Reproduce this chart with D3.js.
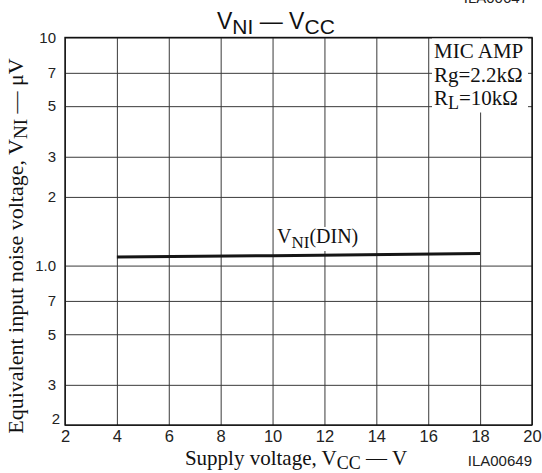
<!DOCTYPE html>
<html>
<head>
<meta charset="utf-8">
<script src="https://cdn.jsdelivr.net/npm/d3@7"></script>
<style>
  html, body { margin: 0; padding: 0; background: #fff; }
  svg { display: block; }
</style>
</head>
<body>
<script>
// Supply voltage (V) and equivalent input noise voltage (µV), DIN weighting
const vccValues = [4, 10, 18];
const vniValues = [1.09, 1.105, 1.13];

const xTickValues = [2, 4, 6, 8, 10, 12, 14, 16, 18, 20];
const xTickLabels = ["2", "4", "6", "8", "10", "12", "14", "16", "18", "20"];
const yTickValues = [10, 7, 5, 3, 2, 1, 0.7, 0.5, 0.3, 0.2];
const yTickLabels = ["10", "7", "5", "3", "2", "1.0", "7", "5", "3", "2"];

const W = 542, H = 473;
const plotL = 65, plotR = 532, plotT = 37.5, plotB = 425;
const sans = "'Liberation Sans', Arial, sans-serif";
const serif = "'Liberation Serif', 'Times New Roman', serif";

const svg = d3.select("body").append("svg")
  .attr("width", W).attr("height", H)
  .attr("viewBox", `0 0 ${W} ${H}`);

const x = d3.scaleLinear().domain([2, 20]).range([plotL, plotR]);
const y = d3.scaleLog().domain([0.2, 10]).range([plotB, plotT]);

// Vertical grid + x tick labels
const xAxis = svg.append("g")
  .attr("transform", `translate(0,${plotB})`)
  .call(d3.axisBottom(x)
    .tickValues(xTickValues)
    .tickFormat((d, i) => xTickLabels[i])
    .tickSize(-(plotB - plotT))
    .tickPadding(5));
xAxis.select(".domain").remove();
xAxis.selectAll("line").attr("stroke", "#3a3a3a").attr("stroke-width", 1);
xAxis.selectAll("text")
  .attr("font-family", sans).attr("font-size", 16.5).attr("fill", "#222");

// Horizontal grid + y tick labels
const yAxis = svg.append("g")
  .attr("transform", `translate(${plotL},0)`)
  .call(d3.axisLeft(y)
    .tickValues(yTickValues)
    .tickFormat((d, i) => yTickLabels[i])
    .tickSize(-(plotR - plotL))
    .tickPadding(9));
yAxis.select(".domain").remove();
yAxis.selectAll("line").attr("stroke", "#3a3a3a").attr("stroke-width", 1);
yAxis.selectAll("text")
  .attr("font-family", sans).attr("font-size", 15).attr("fill", "#222");
// lowest label sits above the corner so it clears the x label
yAxis.selectAll(".tick")
  .filter(d => d === 0.2)
  .select("text").attr("dy", "-0.1em").attr("x", -5);

// Frame
svg.append("rect")
  .attr("x", plotL).attr("y", plotT)
  .attr("width", plotR - plotL).attr("height", plotB - plotT)
  .attr("fill", "none").attr("stroke", "#111").attr("stroke-width", 1.4);

// Conditions box
svg.append("rect")
  .attr("x", 432).attr("y", plotT + 1)
  .attr("width", 96).attr("height", 74)
  .attr("fill", "#fff");
const cond = svg.append("text")
  .attr("font-family", serif).attr("font-size", 21).attr("fill", "#111");
cond.append("tspan").attr("x", 434).attr("y", 58).text("MIC AMP");
cond.append("tspan").attr("x", 434).attr("y", 82).text("Rg=2.2kΩ");
const rl = svg.append("text")
  .attr("font-family", serif).attr("font-size", 21).attr("fill", "#111")
  .attr("x", 434).attr("y", 105);
rl.append("tspan").text("R");
rl.append("tspan").attr("font-size", 18).attr("dy", 4).text("L");
rl.append("tspan").attr("dy", -4).text("=10kΩ");

// Curve
const line = d3.line().x((d, i) => x(vccValues[i])).y(d => y(d));
svg.append("path")
  .datum(vniValues)
  .attr("d", line)
  .attr("fill", "none")
  .attr("stroke", "#151515")
  .attr("stroke-width", 3);

// Curve label
svg.append("rect")
  .attr("x", 274).attr("y", 227)
  .attr("width", 90).attr("height", 24)
  .attr("fill", "#fff");
const lab = svg.append("text")
  .attr("font-family", serif).attr("font-size", 20).attr("fill", "#111")
  .attr("x", 277).attr("y", 243);
lab.append("tspan").text("V");
lab.append("tspan").attr("font-size", 17).attr("dy", 5).text("NI");
lab.append("tspan").attr("dy", -5).text("(DIN)");

// Title
const title = svg.append("text")
  .attr("font-family", sans).attr("font-size", 23).attr("fill", "#111")
  .attr("x", 217).attr("y", 29);
title.append("tspan").text("V");
title.append("tspan").attr("font-size", 21).attr("dy", 5).text("NI");
title.append("tspan").attr("dy", -5).text(" — V");
title.append("tspan").attr("font-size", 21).attr("dy", 5).text("CC");

// X axis title
const xt = svg.append("text")
  .attr("font-family", serif).attr("font-size", 21).attr("fill", "#111")
  .attr("x", 296).attr("y", 465).attr("text-anchor", "middle");
xt.append("tspan").text("Supply voltage, V");
xt.append("tspan").attr("font-size", 18).attr("dy", 4).text("CC");
xt.append("tspan").attr("dy", -4).text(" — V");

// Y axis title
const yt = svg.append("text")
  .attr("font-family", serif).attr("font-size", 22).attr("fill", "#111")
  .attr("transform", "translate(23,246) rotate(-90)")
  .attr("text-anchor", "middle");
yt.append("tspan").text("Equivalent input noise voltage, V");
yt.append("tspan").attr("font-size", 19).attr("dy", 4).text("NI");
yt.append("tspan").attr("dy", -4).text(" — μV");

// Figure codes
svg.append("text")
  .attr("font-family", sans).attr("font-size", 15).attr("fill", "#222")
  .attr("x", 532).attr("y", 466).attr("text-anchor", "end")
  .text("ILA00649");
svg.append("text")
  .attr("font-family", sans).attr("font-size", 15).attr("fill", "#222")
  .attr("x", 528).attr("y", 3).attr("text-anchor", "end")
  .text("ILA00647");
</script>
</body>
</html>
